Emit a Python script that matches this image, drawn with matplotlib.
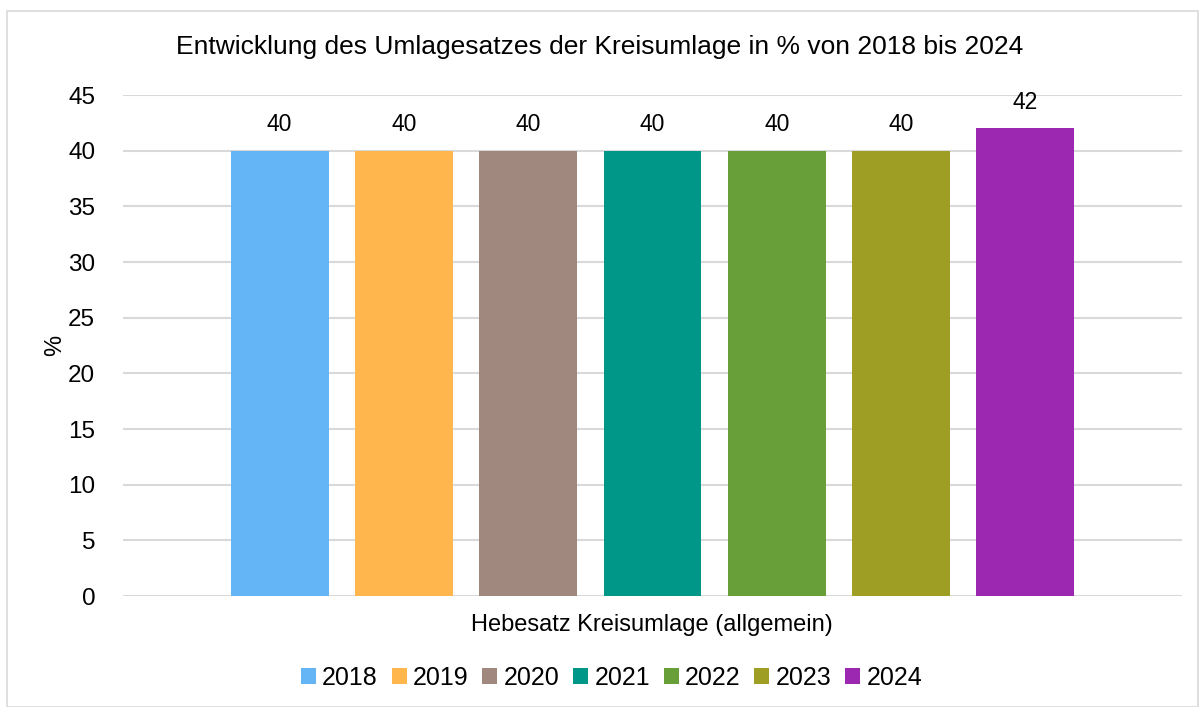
import numpy as np
import matplotlib
matplotlib.use("Agg")
import matplotlib.pyplot as plt
from matplotlib.patches import Rectangle

# data
years = ["2018", "2019", "2020", "2021", "2022", "2023", "2024"]
rates = [40, 40, 40, 40, 40, 40, 42]
colors = ["#64B5F6", "#FFB74D", "#A1887F", "#009688", "#689F38", "#9E9D24", "#9C27B0"]
category = "Hebesatz Kreisumlage (allgemein)"
yticks = list(range(0, 50, 5))

plt.rcParams["font.family"] = ["Liberation Sans", "DejaVu Sans"]

fig = plt.figure(figsize=(11.99, 7.07), dpi=100)
ax = fig.add_axes([0.1026, 0.157, 0.8832, 0.7086])

n = len(years)
step = 0.1174
width = 0.0925
offsets = (np.arange(n) - (n - 1) / 2) * step
for off, y, v, c in zip(offsets, years, rates, colors):
    ax.bar(off, v, width=width, color=c, label=y, zorder=3)
    ax.text(off, v + 1.3, f"{v}", ha="center", va="bottom", fontsize=16.5)

ax.set_xlim(-0.5, 0.5)
ax.set_ylim(0, 45)
ax.set_yticks(yticks)
ax.set_yticklabels([str(t) for t in yticks], fontsize=17.5)
ax.set_xticks([])
ax.grid(axis="y", color="#D9D9D9", lw=1.5, zorder=0)
for s in ax.spines.values():
    s.set_visible(False)
ax.tick_params(axis="y", length=0, pad=20)

fig.text(0.5005, 0.934, "Entwicklung des Umlagesatzes der Kreisumlage in % von 2018 bis 2024",
         ha="center", va="center", fontsize=19)
fig.text(0.544, 0.116, category, ha="center", va="center", fontsize=17)
fig.text(0.046, 0.512, "%", ha="center", va="center", rotation=90, fontsize=17)

fig.legend(loc="center", bbox_to_anchor=(0.51, 0.041), ncol=n, frameon=False,
           fontsize=18, handlelength=0.6, handleheight=0.6, handletextpad=0.25,
           columnspacing=0.55)

fig.patches.append(Rectangle((7 / 1199, 0), 1 - 8 / 1199, 1 - 11 / 707,
                             transform=fig.transFigure, fill=False,
                             edgecolor="#D9D9D9", lw=1.2))

fig.savefig("out.png", dpi=100)
